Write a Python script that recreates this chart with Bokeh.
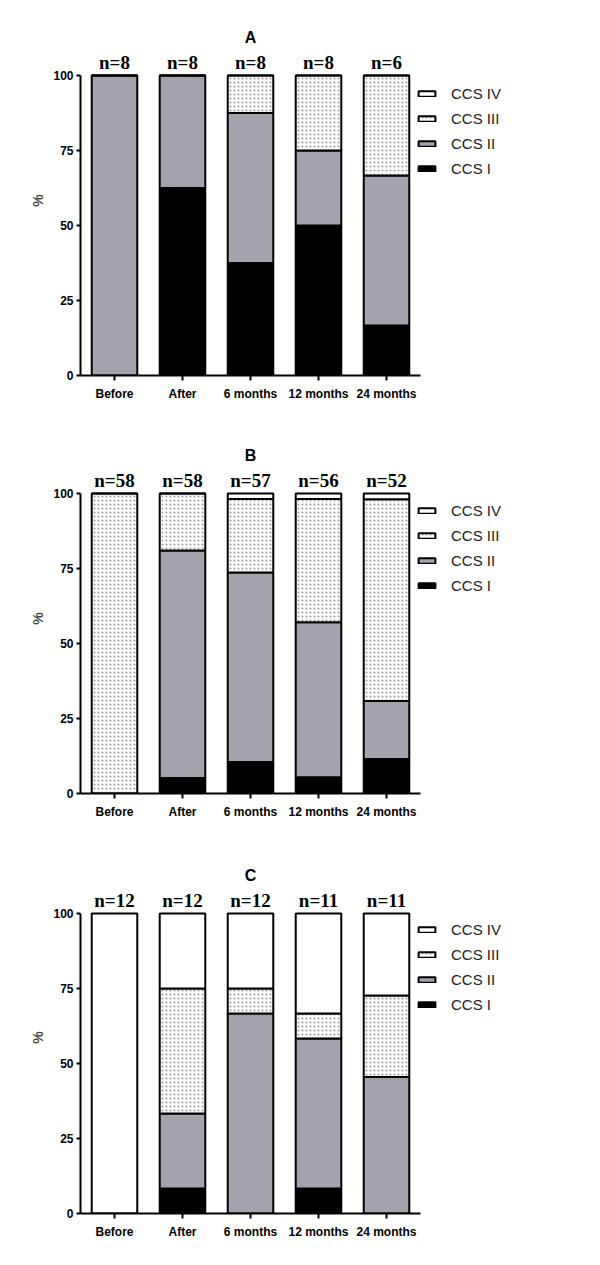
from bokeh.plotting import figure
from bokeh.layouts import column
from bokeh.models import ColumnDataSource, FixedTicker, Legend, LegendItem
from bokeh.core.properties import value
from bokeh.embed import file_html
from bokeh.resources import INLINE

categories = ["Before", "After", "6 months", "12 months", "24 months"]
stages = ["CCS I", "CCS II", "CCS III", "CCS IV"]

a_ccs1 = [0, 62.5, 37.5, 50.0, 16.7]
a_ccs2 = [100, 37.5, 50.0, 25.0, 50.0]
a_ccs3 = [0, 0, 12.5, 25.0, 33.3]
a_ccs4 = [0, 0, 0, 0, 0]
a_n = [8, 8, 8, 8, 6]

b_ccs1 = [0, 5.2, 10.5, 5.4, 11.5]
b_ccs2 = [0, 75.8, 63.2, 51.7, 19.3]
b_ccs3 = [100, 19.0, 24.5, 41.1, 67.3]
b_ccs4 = [0, 0, 1.8, 1.8, 1.9]
b_n = [58, 58, 57, 56, 52]

c_ccs1 = [0, 8.3, 0, 8.3, 0]
c_ccs2 = [0, 25.0, 66.7, 50.0, 45.5]
c_ccs3 = [0, 41.7, 8.3, 8.4, 27.2]
c_ccs4 = [100, 25.0, 25.0, 33.3, 27.3]
c_n = [12, 12, 12, 11, 11]

y_ticks = [0, 25, 50, 75, 100]

FILLS = ["black", "#a3a3ab", "white", "white"]
HATCH = [None, None, "dot", None]

SANS = "Liberation Sans"
SERIF = "Liberation Serif"


def make_panel(title, s1, s2, s3, s4, ns, top_border, frame_h, legend_y):
    px_per_100 = 300.0
    y_end = 100.0 * frame_h / px_per_100
    xs = list(range(1, len(categories) + 1))
    x_end = 0.5 + 512.0 / 68.0
    p = figure(width=592, height=top_border + frame_h + 43,
               x_range=(0.5, x_end), y_range=(0, y_end),
               output_backend="svg", toolbar_location=None,
               min_border_left=80, min_border_right=0,
               min_border_top=top_border, min_border_bottom=43)
    p.outline_line_color = None
    p.grid.visible = False
    p.background_fill_color = "white"

    src = ColumnDataSource(dict(x=xs, s1=s1, s2=s2, s3=s3, s4=s4,
                                tot=[a + b + c + d for a, b, c, d in zip(s1, s2, s3, s4)],
                                n=["n=%d" % v for v in ns]))
    renderers = p.vbar_stack(["s1", "s2", "s3", "s4"], x="x", width=0.67, source=src,
                             fill_color=FILLS, line_color="black", line_width=2,
                             hatch_pattern=HATCH, hatch_color="#333333",
                             hatch_scale=4, hatch_weight=1, hatch_alpha=0.5)

    p.text(x="x", y="tot", text="n", source=src, text_align="center",
           text_baseline="middle", y_offset=-13,
           text_font=value(SERIF), text_font_style="bold",
           text_font_size="19px", text_color="black")

    mid = sum(xs) / len(xs)
    p.text(x=[mid], y=[max(y_ticks)], text=[title], text_align="center",
           text_baseline="middle", y_offset=-38,
           text_font=value(SANS), text_font_style="bold",
           text_font_size="16px", text_color="black")

    xa = p.xaxis[0]
    xa.bounds = (0.5, 5.5)
    xa.ticker = FixedTicker(ticks=xs)
    xa.major_label_overrides = {i: c for i, c in zip(xs, categories)}
    xa.minor_tick_line_color = None
    xa.major_tick_in = 0
    xa.major_tick_out = 5
    xa.axis_line_width = 2
    xa.major_tick_line_width = 2
    xa.major_label_standoff = 6
    xa.major_label_text_font = SANS
    xa.major_label_text_font_style = "bold"
    xa.major_label_text_font_size = "12px"
    xa.major_label_text_color = "black"

    ya = p.yaxis[0]
    ya.bounds = (0, 100)
    ya.ticker = FixedTicker(ticks=y_ticks)
    ya.minor_tick_line_color = None
    ya.major_tick_in = 0
    ya.major_tick_out = 4
    ya.axis_line_width = 2
    ya.major_tick_line_width = 2
    ya.major_label_standoff = 3
    ya.major_label_text_font = SANS
    ya.major_label_text_font_style = "bold"
    ya.major_label_text_font_size = "12px"
    ya.major_label_text_color = "black"
    ya.axis_label = "%"
    ya.axis_label_standoff = 4
    ya.axis_label_text_font = SANS
    ya.axis_label_text_font_style = "bold"
    ya.axis_label_text_font_size = "14px"

    items = [LegendItem(label=stages[i], renderers=[renderers[i]]) for i in [3, 2, 1, 0]]
    legend = Legend(items=items, location=(336, legend_y), padding=0, margin=0,
                    spacing=5, glyph_width=21, glyph_height=7, label_height=20,
                    label_standoff=14, label_text_font=SANS,
                    label_text_font_size="15px", label_text_color="#222222",
                    border_line_color=None, background_fill_alpha=0)
    p.add_layout(legend, "center")
    return p


pa = make_panel("A", a_ccs1, a_ccs2, a_ccs3, a_ccs4, a_n, 25, 350, 197)
pb = make_panel("B", b_ccs1, b_ccs2, b_ccs3, b_ccs4, b_n, 25, 350, 198)
pc = make_panel("C", c_ccs1, c_ccs2, c_ccs3, c_ccs4, c_n, 25, 352, 199)

layout = column(pa, pb, pc, spacing=0)
open("out.html", "w").write(file_html(layout, INLINE))
